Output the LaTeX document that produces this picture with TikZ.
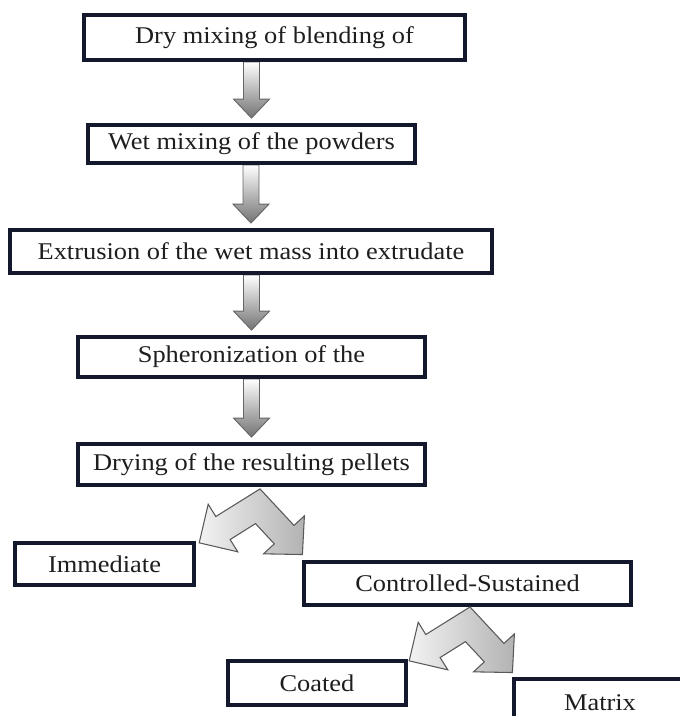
\documentclass[tikz,border=0pt]{standalone}
\usepackage{fontspec}
\setmainfont{Liberation Serif}[FakeStretch=1.1]
\usetikzlibrary{calc,backgrounds}
\definecolor{navy}{RGB}{20,24,44}
\definecolor{txt}{RGB}{30,30,30}
\newcommand\flowarrow[2]{%
  \coordinate (fs) at (#2.north |- #1.south);
  \coordinate (ft) at ($(#2.north)+(0,-5)$);
  \shade[flow] ($(fs)+(-8,0)$) -- ($(ft)+(-8,-19)$) -- ($(ft)+(-18,-19)$) -- (ft)
    -- ($(ft)+(18,-19)$) -- ($(ft)+(8,-19)$) -- ($(fs)+(8,0)$) -- cycle;}
\newcommand\forkarrow[1]{%
  \begin{scope}[shift={(#1)}]
  \shade[fork] (0,0) -- (-44.2,27.6) -- (-51.8,15.3) -- (-60.8,53.9) -- (-22.2,62.9)
    -- (-29.9,50.6) -- (-4.5,34.7) -- (14.3,54.9) -- (3.6,64.9) -- (42.4,65.6)
    -- (44.4,26.9) -- (34,36.5) -- cycle;
  \end{scope}}
\begin{document}
\begin{tikzpicture}[x=0.75pt,y=-0.75pt,
  box/.style={draw=navy, line width=2.9pt, fill=white, inner sep=0pt, text=txt,
    font=\fontsize{18}{20}\selectfont},
  flow/.style={top color=white, bottom color=black!55, draw=black!60, line width=0.7pt},
  fork/.style={left color=black!5, middle color=black!60, right color=black!30,
    draw=black!65, line width=0.8pt}]
\clip (0,0) rectangle (680,716);
\node[box, minimum width={381*0.75pt}, minimum height={45*0.75pt}] (b1) at (274.5,37.5) {Dry mixing of blending of};
\node[box, minimum width={327*0.75pt}, minimum height={38*0.75pt}] (b2) at (251.5,144) {Wet mixing of the powders};
\node[box, minimum width={482*0.75pt}, minimum height={43*0.75pt}] (b3) at (251,251.5) {Extrusion of the wet mass into extrudate};
\node[box, minimum width={347*0.75pt}, minimum height={40*0.75pt}] (b4) at (251.5,357) {Spheronization of the};
\node[box, minimum width={347*0.75pt}, minimum height={41*0.75pt}] (b5) at (251.5,464.5) {Drying of the resulting pellets};
\node[box, minimum width={179*0.75pt}, minimum height={42*0.75pt}] (imm) at (104.5,564) {Immediate};
\node[box, minimum width={327*0.75pt}, minimum height={43*0.75pt}] (cs) at (467.5,583.5) {Controlled-Sustained};
\node[box, minimum width={178*0.75pt}, minimum height={44*0.75pt}] (coat) at (317,683) {Coated};
\node[box, minimum width={172*0.75pt}, minimum height={48*0.75pt}] (mat) at (600,703) {Matrix};
\begin{scope}[on background layer]
  \fill[white] (0,0) rectangle (680,716);
  \flowarrow{b1}{b2}
  \flowarrow{b2}{b3}
  \flowarrow{b3}{b4}
  \flowarrow{b4}{b5}
\end{scope}
\coordinate (f1) at ($(b5.south)+(8.5,2)$);
\coordinate (f2) at ($(cs.south)+(2.5,0)$);
\forkarrow{f1}
\forkarrow{f2}
\end{tikzpicture}
\end{document}
